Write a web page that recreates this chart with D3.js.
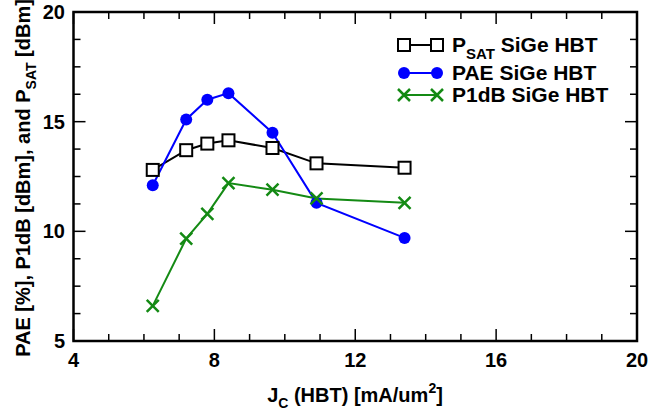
<!DOCTYPE html>
<html><head><meta charset="utf-8">
<script src="https://cdn.jsdelivr.net/npm/d3@7"></script>
<style>body{margin:0;background:#fff;} text{font-family:"Liberation Sans",Arial,sans-serif;font-weight:bold;}</style>
</head><body><svg id="c" width="649" height="415"></svg>
<script>
const jc = [6.25, 7.2, 7.8, 8.4, 9.65, 10.9, 13.4];
const psat = [12.8, 13.7, 14.0, 14.15, 13.8, 13.1, 12.9];
const pae = [12.1, 15.1, 16.0, 16.3, 14.5, 11.3, 9.7];
const p1db = [6.6, 9.67, 10.8, 12.2, 11.9, 11.5, 11.3];
const xTicks = [4, 8, 12, 16, 20];
const yTicks = [5, 10, 15, 20];

const svg = d3.select("#c");
const L = 73.5, R = 637, T = 12, B = 341;
const x = d3.scaleLinear().domain([4, 20]).range([L, R]);
const y = d3.scaleLinear().domain([5, 20]).range([B, T]);

// ticks
const g = svg.append("g").attr("stroke", "#000").attr("stroke-width", 1.5);
const xMinor = d3.range(4, 20.01, 1);
const yMinor = d3.range(5, 20.01, 1.25);
xMinor.forEach(v => {
  const len = xTicks.includes(v) ? 12 : 7;
  g.append("line").attr("x1", x(v)).attr("x2", x(v)).attr("y1", B).attr("y2", B - len);
  g.append("line").attr("x1", x(v)).attr("x2", x(v)).attr("y1", T).attr("y2", T + len);
});
yMinor.forEach(v => {
  const len = yTicks.includes(v) ? 12 : 7;
  g.append("line").attr("y1", y(v)).attr("y2", y(v)).attr("x1", L).attr("x2", L + len);
  g.append("line").attr("y1", y(v)).attr("y2", y(v)).attr("x1", R).attr("x2", R - len);
});
svg.append("rect").attr("x", L).attr("y", T).attr("width", R - L).attr("height", B - T)
  .attr("fill", "none").attr("stroke", "#000").attr("stroke-width", 2.5);

// tick labels
svg.selectAll(".xl").data(xTicks).enter().append("text")
  .attr("x", d => x(d)).attr("y", 367).attr("text-anchor", "middle")
  .attr("font-size", 20).text(d => d);
svg.selectAll(".yl").data(yTicks).enter().append("text")
  .attr("x", 65).attr("y", d => y(d) + 7).attr("text-anchor", "end")
  .attr("font-size", 20).text(d => d);

// axis titles
const xt = svg.append("text").attr("x", 355).attr("y", 402).attr("text-anchor", "middle").attr("font-size", 20);
xt.append("tspan").text("J");
xt.append("tspan").attr("font-size", 14).attr("dy", 6).text("C");
xt.append("tspan").attr("dy", -6).text(" (HBT) [mA/um");
xt.append("tspan").attr("font-size", 14).attr("dy", -9).text("2");
xt.append("tspan").attr("dy", 9).text("]");

const yt = svg.append("text").attr("transform", "translate(30,178) rotate(-90)")
  .attr("text-anchor", "middle").attr("font-size", 20);
yt.append("tspan").text("PAE [%], P1dB [dBm], and P");
yt.append("tspan").attr("font-size", 14).attr("dy", 6).text("SAT");
yt.append("tspan").attr("dy", -6).text(" [dBm]");

const line = d3.line().x(d => x(d[0])).y(d => y(d[1]));
const series = [
  {vals: psat, color: "#000", type: "square"},
  {vals: pae, color: "#0000ff", type: "circle"},
  {vals: p1db, color: "#148a14", type: "x"}
];
function marker(sel, type, color, cx, cy) {
  if (type === "square") {
    sel.append("rect").attr("x", cx - 6).attr("y", cy - 6).attr("width", 12).attr("height", 12)
      .attr("fill", "#fff").attr("stroke", color).attr("stroke-width", 2);
  } else if (type === "circle") {
    sel.append("circle").attr("cx", cx).attr("cy", cy).attr("r", 6).attr("fill", color);
  } else {
    sel.append("path").attr("d", `M${cx-6},${cy-6}L${cx+6},${cy+6}M${cx-6},${cy+6}L${cx+6},${cy-6}`)
      .attr("stroke", color).attr("stroke-width", 2.5).attr("fill", "none");
  }
}
series.forEach(s => {
  const pts = jc.map((v, i) => [v, s.vals[i]]);
  svg.append("path").attr("d", line(pts)).attr("fill", "none").attr("stroke", s.color).attr("stroke-width", 2);
});
series.forEach(s => {
  const gm = svg.append("g");
  jc.forEach((v, i) => marker(gm, s.type, s.color, x(v), y(s.vals[i])));
});

// legend
const leg = [
  {s: series[0], main: "P", sub: "SAT", rest: " SiGe HBT", y: 45},
  {s: series[1], main: "PAE SiGe HBT", y: 73},
  {s: series[2], main: "P1dB SiGe HBT", y: 95}
];
leg.forEach(l => {
  svg.append("line").attr("x1", 404).attr("x2", 437).attr("y1", l.y).attr("y2", l.y)
    .attr("stroke", l.s.color).attr("stroke-width", 2);
  marker(svg, l.s.type, l.s.color, 404, l.y);
  marker(svg, l.s.type, l.s.color, 437, l.y);
  const t = svg.append("text").attr("x", 452).attr("y", l.y + 7).attr("font-size", 21);
  t.append("tspan").text(l.main);
  if (l.sub) {
    t.append("tspan").attr("font-size", 15).attr("dy", 7).text(l.sub);
    t.append("tspan").attr("dy", -7).text(l.rest);
  }
});
</script></body></html>
